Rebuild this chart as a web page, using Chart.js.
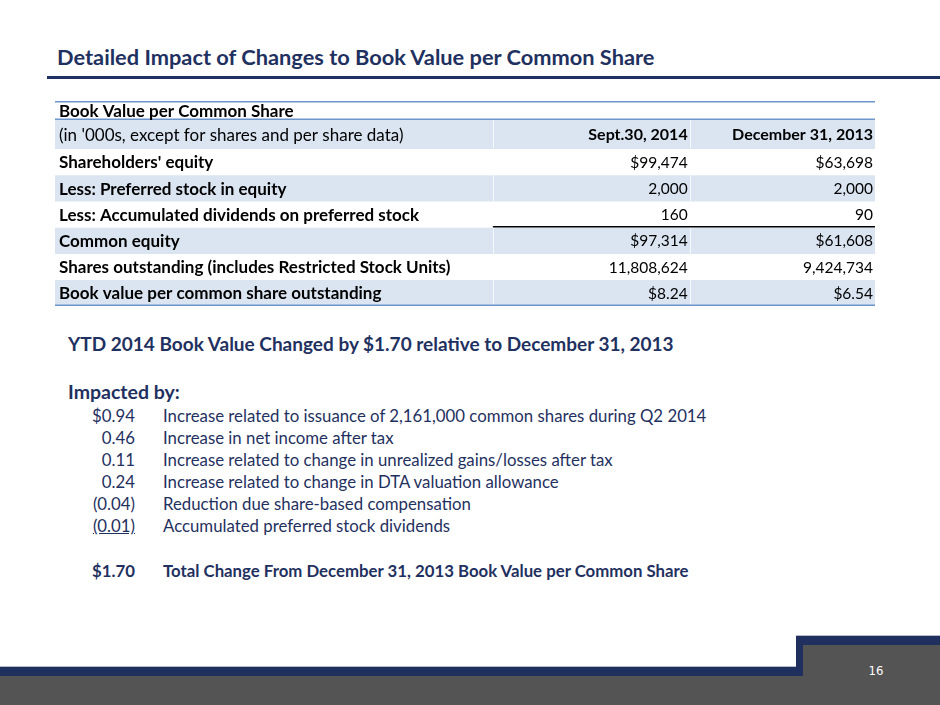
<!DOCTYPE html>
<html>
<head>
<meta charset="utf-8">
<script src="https://cdn.jsdelivr.net/npm/chart.js@4.4.1/dist/chart.umd.min.js"></script>
<style>
body{margin:0;background:#fff;font-family:Lato,"Open Sans",sans-serif;}
#slide{position:relative;width:940px;height:705px;overflow:hidden;background:#fff;}
.abs{position:absolute;}
#title{left:57px;top:43px;font-size:21.8px;font-weight:bold;color:#1f3160;white-space:nowrap;}
#titleLine{left:47px;top:76px;width:893px;height:3px;background:#1f3160;}
#tableBox{left:55px;top:101px;width:820px;height:205px;}
#headline{left:68px;top:332px;font-size:19px;font-weight:bold;color:#1f3160;white-space:nowrap;}
#impacted{left:68px;top:380px;font-size:19.5px;font-weight:bold;color:#1f3160;}
#list{left:0;top:405px;color:#1f3160;font-size:16.8px;}
.row{position:absolute;left:0;height:22px;white-space:nowrap;}
.amt{position:absolute;right:0;width:135px;text-align:right;}
.desc{position:absolute;left:163px;}
#pnum{left:860px;top:663px;width:32px;text-align:center;color:#fff;font-size:13px;font-family:"Liberation Sans Narrow","DejaVu Sans Condensed",sans-serif;}
</style>
</head>
<body>
<div id="slide">
  <div class="abs" id="title">Detailed Impact of Changes to Book Value per Common Share</div>
  <div class="abs" id="titleLine"></div>
  <div class="abs" id="tableBox"><canvas id="tbl"></canvas></div>
  <div class="abs" id="headline"></div>
  <div class="abs" id="impacted">Impacted by:</div>
  <div class="abs" id="list"></div>

  <div class="abs" style="left:0;top:676px;width:940px;height:29px;background:#545454"></div>
  <div class="abs" style="left:0;top:666px;width:803px;height:1px;background:#b8bcc8"></div>
  <div class="abs" style="left:0;top:667px;width:803px;height:9px;background:#1f2f5e"></div>
  <div class="abs" style="left:796px;top:635px;width:144px;height:1px;background:#b8bcc8"></div>
  <div class="abs" style="left:796px;top:636px;width:144px;height:40px;background:#1f2f5e"></div>
  <div class="abs" style="left:803px;top:645px;width:137px;height:60px;background:#545454"></div>
  <div class="abs" id="pnum">16</div>
</div>
<script>
// table rows
let rowLabels = [
"Book Value per Common Share",
"(in '000s, except for shares and per share data)",
"Shareholders' equity",
"Less: Preferred stock in equity",
"Less: Accumulated dividends on preferred stock",
"Common equity",
"Shares outstanding (includes Restricted Stock Units)",
"Book value per common share outstanding"
]
let colHeaders = ["Sept.30, 2014", "December 31, 2013"]
// values for rows 2..7
let sept2014 = [99474, 2000, 160, 97314, 11808624, 8.24]
let dec2013 = [63698, 2000, 90, 61608, 9424734, 6.54]
let dollarRows = [0, 3, 5]
let boldLabelRows = [0, 2, 3, 4, 5, 6, 7]

// impact list
let headlineText = "YTD 2014 Book Value Changed by $1.70 relative to December 31, 2013"
let impactValues = [0.94, 0.46, 0.11, 0.24, -0.04, -0.01]
let impactLabels = [
"Increase related to issuance of 2,161,000 common shares during Q2 2014",
"Increase in net income after tax",
"Increase related to change in unrealized gains/losses after tax",
"Increase related to change in DTA valuation allowance",
"Reduction due share-based compensation",
"Accumulated preferred stock dividends"
]
let totalValue = 1.70
let totalLabel = "Total Change From December 31, 2013 Book Value per Common Share"

function fmtCell(v, i){
let s = v % 1 !== 0 ? v.toFixed(2) : v.toLocaleString("en-US")
return dollarRows.indexOf(i) >= 0 ? "$" + s : s
}

function fmtImpact(v, i){
let s = Math.abs(v).toFixed(2)
if(v < 0) return "(" + s + ")"
return i === 0 ? "$" + s : s
}

document.getElementById("headline").textContent = headlineText
let list = document.getElementById("list")
let html = ""
impactValues.forEach(function(v, i){
let amt = fmtImpact(v, i)
if(i === impactValues.length - 1) amt = "<u>" + amt + "</u>"
html += '<div class="row" style="top:' + (i * 22) + 'px"><span class="amt" style="left:0">' + amt + '</span><span class="desc">' + impactLabels[i] + '</span></div>'
})
html += '<div class="row" style="top:' + (6 * 22 + 23) + 'px;font-weight:bold"><span class="amt" style="left:0">$' + totalValue.toFixed(2) + '</span><span class="desc">' + totalLabel + '</span></div>'
list.innerHTML = html

// row heights in row units (first header row is short, second is tall)
let rowUnits = rowLabels.map(function(l, i){ return i === 0 ? 0.7 : (i === 1 ? 1.12 : 1) })
let starts = []
let acc = 0
rowUnits.forEach(function(u){ starts.push(acc); acc += u })
let totalUnits = acc

let blue = "#dbe5f1"
let lineBlue = "#6f96cc"
let colEdges = [0.534, 0.774, 1.0]

let tablePlugin = {
id: "tableText",
afterDatasetsDraw: function(chart){
let ctx = chart.ctx
let ys = chart.scales.y
let area = chart.chartArea
let w = area.right - area.left
let xAt = function(f){ return area.left + f * w }
ctx.save()

// faint column separators on shaded rows
ctx.strokeStyle = "rgba(255,255,255,0.7)"
ctx.lineWidth = 1
for(let r = 1; r < rowLabels.length; r += 2){
let y0 = ys.getPixelForValue(starts[r])
let y1 = ys.getPixelForValue(starts[r] + rowUnits[r])
for(let c = 0; c < 2; c++){
ctx.beginPath()
ctx.moveTo(Math.round(xAt(colEdges[c])) + 0.5, y0)
ctx.lineTo(Math.round(xAt(colEdges[c])) + 0.5, y1)
ctx.stroke()
}
}

// blue rules: top, below title row, bottom
ctx.strokeStyle = lineBlue
ctx.lineWidth = 1.5
;[0, starts[1], totalUnits].forEach(function(u){
let y = ys.getPixelForValue(u)
y = Math.min(Math.max(y, area.top + 0.75), area.bottom - 0.75)
ctx.beginPath()
ctx.moveTo(area.left, y)
ctx.lineTo(area.right, y)
ctx.stroke()
})

// black total rule under accumulated dividends row
let yb = ys.getPixelForValue(starts[5]) - 0.5
ctx.strokeStyle = "#000"
ctx.lineWidth = 1.5
ctx.beginPath()
ctx.moveTo(xAt(colEdges[0]), yb)
ctx.lineTo(area.right, yb)
ctx.stroke()

ctx.fillStyle = "#000"
ctx.textBaseline = "middle"
rowLabels.forEach(function(label, r){
let y = ys.getPixelForValue(starts[r] + rowUnits[r] / 2) + 1
ctx.textAlign = "left"
ctx.font = (boldLabelRows.indexOf(r) >= 0 ? "bold " : "") + "17px Lato"
ctx.fillText(label, area.left + 4, y)
if(r === 1){
ctx.textAlign = "right"
ctx.font = "bold 16px Lato"
ctx.fillText(colHeaders[0], xAt(colEdges[1]) - 2, y)
ctx.fillText(colHeaders[1], xAt(colEdges[2]) - 2, y)
}
if(r >= 2){
ctx.textAlign = "right"
ctx.font = "15.5px Lato"
ctx.fillText(fmtCell(sept2014[r - 2], r - 2), xAt(colEdges[1]) - 2, y)
ctx.fillText(fmtCell(dec2013[r - 2], r - 2), xAt(colEdges[2]) - 2, y)
}
})
ctx.restore()
}
}

let datasets = rowLabels.map(function(label, i){
return {
label: label,
data: [[starts[i], starts[i] + rowUnits[i]]],
backgroundColor: i % 2 === 1 ? blue : "#ffffff",
borderWidth: 0,
borderSkipped: false,
grouped: false,
barPercentage: 1,
categoryPercentage: 1
}
})

new Chart(document.getElementById("tbl"), {
type: "bar",
data: { labels: ["table"], datasets: datasets },
options: {
responsive: true,
maintainAspectRatio: false,
animation: false,
layout: { padding: 0 },
plugins: { legend: { display: false }, tooltip: { enabled: false } },
scales: {
x: { display: false, offset: true },
y: { display: false, type: "linear", min: 0, max: totalUnits, reverse: true }
}
},
plugins: [tablePlugin]
})
</script>
</body>
</html>
